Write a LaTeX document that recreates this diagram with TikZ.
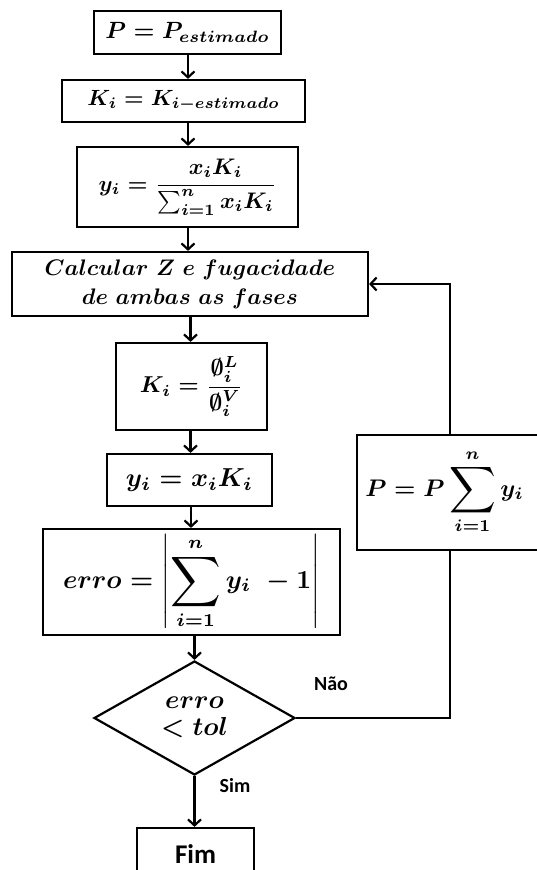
\documentclass[tikz,border=0pt]{standalone}
\usepackage{amsmath}
\usepackage{graphicx}
\usepackage{fontspec}
\newfontfamily\lblfont{Carlito}
\newcommand{\bsum}{\mathop{\vcenter{\hbox{\scalebox{1.35}{$\displaystyle\sum$}}}}\limits}
\newcommand{\mt}[2]{\scalebox{#1}{\boldmath$#2$}}
\usetikzlibrary{arrows.meta,shapes.geometric}
\begin{document}
\begin{tikzpicture}[x=1pt,y=-1pt,
  every node/.style={font=\normalsize},
  box/.style={draw, line width=2.2pt, inner sep=0pt, anchor=center, align=center},
  dia/.style={draw, line width=2.2pt, diamond, inner sep=0pt, aspect=1.76, anchor=center},
  lbl/.style={font=\lblfont\bfseries\fontsize{20}{24}\selectfont, anchor=center},
  arr/.style={line width=2.2pt, -{Straight Barb[length=6pt,width=13pt]}},
  ln/.style={line width=2.2pt}]
\useasboundingbox (0,0) rectangle (536,870);
\node[box, minimum width=187pt, minimum height=43pt] (b1) at (187.5,32.5) {\mt{2.35}{P = P_{estimado}}};
\node[box, minimum width=243pt, minimum height=42pt] (b2) at (183.5,101) {\mt{2.2}{K_i = K_{i-estimado}}};
\node[box, minimum width=221pt, minimum height=80pt] (b3) at (187.5,187) {\mt{2.25}{y_i = \dfrac{x_iK_i}{\sum_{i=1}^{n} x_iK_i}}};
\node[box, minimum width=356pt, minimum height=64pt] (b4) at (190,284) {\mt{2.25}{Calcular\ Z\ e\ fugacidade}\\[8pt]\mt{2.25}{de\ ambas\ as\ fases}};
\node[box, minimum width=151pt, minimum height=87pt] (b5) at (191.5,386.5) {\mt{2.3}{K_i = \dfrac{\emptyset_i^L}{\emptyset_i^V}}};
\node[box, minimum width=165pt, minimum height=52pt] (b6) at (189.5,480) {\mt{2.6}{y_i = x_iK_i}};
\node[box, minimum width=297pt, minimum height=106pt] (b7) at (191.5,582) {\mt{2.6}{erro = \left|\bsum_{i=1}^{n} y_i\ - 1\right|}};
\node[dia, minimum width=201pt, minimum height=114pt] (d) at (194.5,718) {\raisebox{-6pt}{\begin{tabular}{@{}c@{}}\mt{2.6}{erro}\\[6pt]\mt{2.6}{<tol}\end{tabular}}};
\node[box, minimum width=117pt, minimum height=52pt, font=\lblfont\bfseries\fontsize{27}{30}\selectfont] (fim) at (195.5,854) {Fim};
\node[box, minimum width=188pt, minimum height=115pt] (bp) at (451,492.5) {};
\node[anchor=center] (bpt) at (444.5,492) {\mt{2.4}{P = P\bsum_{i=1}^{n} y_i}};
\node[lbl] (nao) at (331,684) {Não};
\node[lbl] (sim) at (235,786) {Sim};
\coordinate (c1) at (450,718);
\coordinate (c2) at (450,284);
\draw[arr] (b1.south -| 188,0) -- (b2.north -| 188,0);
\draw[arr] (b2.south -| 188,0) -- (b3.north -| 188,0);
\draw[arr] (b3.south -| 188,0) -- (b4.north -| 188,0);
\draw[arr] (b4.south -| 190.5,0) -- (b5.north -| 190.5,0);
\draw[arr] (b5.south -| 190.5,0) -- (b6.north -| 190.5,0);
\draw[arr] (b6.south -| 191,0) -- (b7.north -| 191,0);
\draw[arr] (b7.south -| d.north) -- (d.north);
\draw[arr] (d.south) -- (fim.north -| d.south);
\draw[ln] (d.east) -- (c1) -- (bp.south -| c1);
\draw[arr] (bp.north -| c2) -- (c2) -- (b4.east);
\end{tikzpicture}
\end{document}
